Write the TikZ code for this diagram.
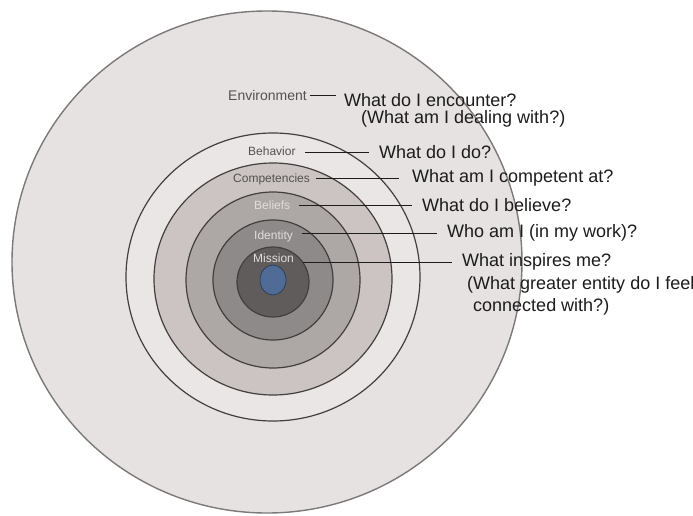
\documentclass[tikz,border=0pt]{standalone}
\usepackage{fontspec}
\setmainfont{Liberation Sans}
\usetikzlibrary{positioning}
\definecolor{Ink}{HTML}{1C1C1C}
\definecolor{Rim}{HTML}{423F3F}
\definecolor{EnvFill}{HTML}{E6E2E1}
\definecolor{BehFill}{HTML}{E9E6E5}
\definecolor{ComFill}{HTML}{CBC4C3}
\definecolor{BelFill}{HTML}{ADA7A6}
\definecolor{IdeFill}{HTML}{8E8A89}
\definecolor{MisFill}{HTML}{5F5C5B}
\definecolor{Core}{HTML}{4F6B96}
\definecolor{Dim}{HTML}{555151}
\definecolor{Pale}{HTML}{E2DDDC}

\begin{document}
\begin{tikzpicture}[x=1pt, y=-1pt, every node/.style={inner sep=1pt},
    lay/.style={anchor=west, font=\fontsize{12}{14}\selectfont},
    ask/.style={Ink, anchor=west, font=\fontsize{18}{20}\selectfont},
    link/.style={Ink, line width=0.8pt, shorten <=8pt, shorten >=9pt}]
  \useasboundingbox (0,0) rectangle (693,516);
  % rings, outside in
  \filldraw[fill=EnvFill, draw=Rim!70, line width=1.4pt] (267,262) ellipse [x radius=255pt, y radius=251pt];
  \foreach \rx/\ry/\cy/\col in {147/144/277/BehFill, 119/116/279/ComFill, 87/88/280/BelFill, 60/60/280/IdeFill, 36/35/282/MisFill}
    \filldraw[fill=\col, draw=Rim, line width=1.2pt] (273,\cy) ellipse [x radius={\rx pt}, y radius={\ry pt}];
  \filldraw[fill=Core, draw=Core!60!black, line width=0.8pt] (273,280) ellipse [x radius=13pt, y radius=15pt];

  % level names
  \node[lay, Dim, font=\fontsize{14}{16}\selectfont] (env) at (227,95) {Environment};
  \node[lay, Dim] (beh) at (247,151) {Behavior};
  \node[lay, Dim] (com) at (232,179) {Competencies};
  \node[lay, Pale] (bel) at (253,205) {Beliefs};
  \node[lay, Pale] (ide) at (253,236) {Identity};
  \node[lay, Pale] (mis) at (252,258) {Mission};

  % questions
  \node[ask] (envq) at (343,100) {What do I encounter?};
  \node[ask] (envq2) at (360,119) {(What am I dealing with?)};
  \node[ask] (behq) at (378,152) {What do I do?};
  \node[ask] (comq) at (411,178) {What am I competent at?};
  \node[ask] (belq) at (421,205) {What do I believe?};
  \node[ask] (ideq) at (446,233) {Who am I (in my work)?};
  \node[ask] (misq) at (461,262) {What inspires me?};
  \node[ask] (misq2) at (466,285) {(What greater entity do I feel};
  \node[ask] (misq3) at (472,307) {connected with?)};

  \draw[link, shorten <=2pt, shorten >=7pt] (env.east) -- (env.east -| envq.west);
  \draw[link] (behq.west -| beh.east) -- (behq.west);
  \draw[link, shorten <=5pt, shorten >=12pt] (comq.west -| com.east) -- (comq.west);
  \draw[link] (belq.west -| bel.east) -- (belq.west);
  \draw[link] (ideq.west -| ide.east) -- (ideq.west);
  \draw[link] (misq.west -| mis.east) -- (misq.west);
\end{tikzpicture}
\end{document}
